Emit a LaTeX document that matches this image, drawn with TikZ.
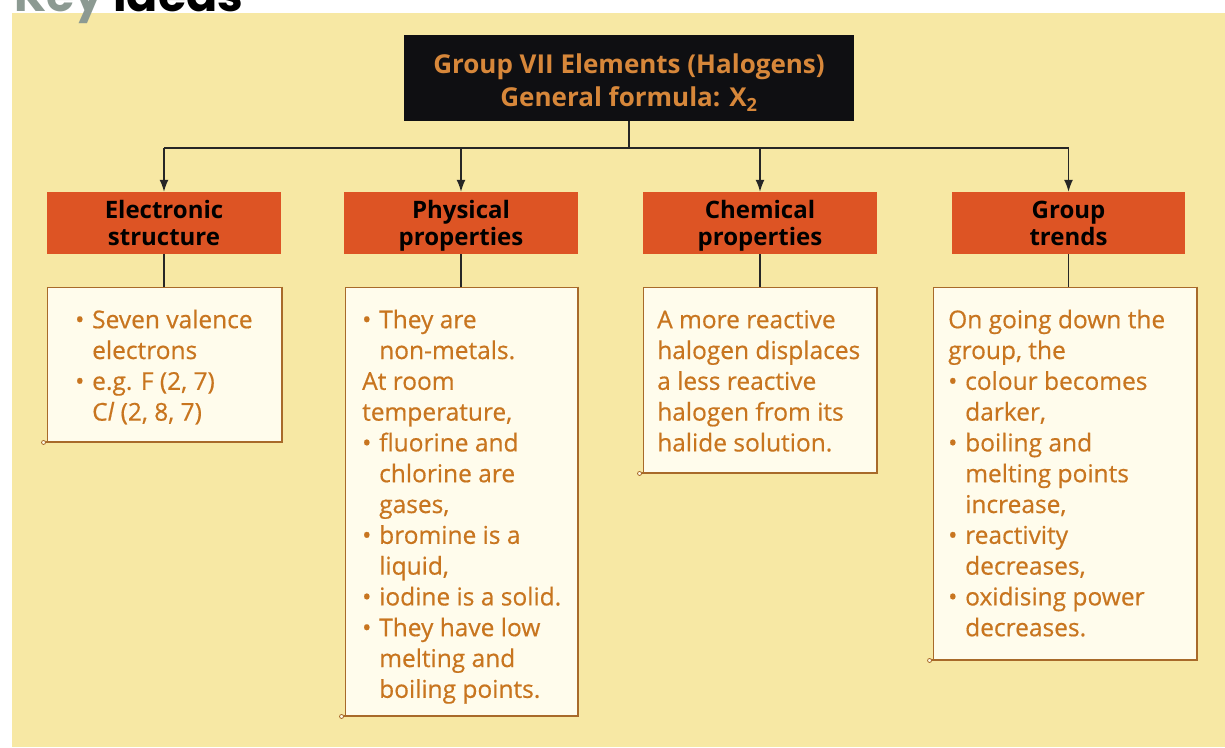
\documentclass[tikz,border=0pt]{standalone}
\usepackage{fontspec}
\setmainfont{Open Sans}
\newfontfamily\keyfont{Poppins}
\newfontfamily\bodyfont[FakeBold=0.5]{Open Sans}
\usetikzlibrary{arrows.meta}
\definecolor{bgyellow}{HTML}{F7E8A4}
\definecolor{hdrorange}{HTML}{DD5424}
\definecolor{titlefill}{HTML}{0F0F12}
\definecolor{titletext}{HTML}{D7873A}
\definecolor{bodytext}{HTML}{C8751F}
\definecolor{boxfill}{HTML}{FFFCEC}
\definecolor{boxline}{HTML}{A86A2A}
\definecolor{keygrey}{HTML}{8C9A92}
\newcommand{\bul}{\makebox[17pt][l]{\textbullet}}
\newcommand{\ind}{\hspace*{17pt}}
\newcommand{\fl}{\rule{0pt}{22pt}}
\newcommand{\hTop}{\rule{0pt}{24pt}}
\newcommand{\hBot}{\rule[-7pt]{0pt}{0pt}}
\newcommand{\tTop}{\rule{0pt}{32pt}}
\newcommand{\tBot}{\rule[-8pt]{0pt}{0pt}}
\begin{document}
\begin{tikzpicture}[x=1pt,y=-1pt,
 titlebox/.style={fill=titlefill, text=titletext, minimum width=450pt, minimum height=86pt, inner sep=0pt, align=center, font=\bfseries\fontsize{26}{33}\selectfont},
 header/.style={fill=hdrorange, minimum height=62pt, inner sep=0pt, align=center, font=\bfseries\fontsize{24}{27}\selectfont},
 contentbox/.style={fill=boxfill, draw=boxline, line width=0.9pt, inner sep=0pt},
 bodytxt/.style={anchor=north west, inner sep=0pt, align=left, text=bodytext, font=\bodyfont\fontsize{24.5}{30.8}\selectfont},
 conn/.style={line width=1.4pt, draw=black!85},
 arr/.style={conn, -{Latex[length=12pt,width=9pt]}}
]
\useasboundingbox (0,0) rectangle (1225,747);
\fill[white] (0,0) rectangle (1225,747);
\fill[bgyellow] (12,13) rectangle (1225,747);
\begin{scope}
\clip (0,0) rectangle (1225,747);
\node[anchor=base west, inner sep=0pt, font=\keyfont\bfseries\fontsize{46}{46}\selectfont] (key) at (14,11) {\textcolor{keygrey}{Key} ideas};
\end{scope}

\node[titlebox] (title) at (629,78) {\tTop Group VII Elements (Halogens)\\General formula: X\textsubscript{2}\tBot};

\node[header, minimum width=234pt] (h1) at (164,223) {\hTop Electronic\\structure\hBot};
\node[header, minimum width=234pt] (h2) at (461,223) {\hTop Physical\\properties\hBot};
\node[header, minimum width=234pt] (h3) at (760,223) {\hTop Chemical\\properties\hBot};
\node[header, minimum width=233pt] (h4) at (1068.5,223) {\hTop Group\\trends\hBot};

\node[contentbox, minimum width=235pt, minimum height=155pt] (c1) at (164.5,364.5) {};
\node[contentbox, minimum width=233pt, minimum height=429pt] (c2) at (461.5,501.5) {};
\node[contentbox, minimum width=234pt, minimum height=186pt] (c3) at (760,380) {};
\node[contentbox, minimum width=264pt, minimum height=373pt] (c4) at (1065,473.5) {};
\foreach \c in {c1,c2,c3,c4}{
  \draw[boxline, line width=2pt] (\c.north east) -- (\c.south east) -- ([xshift=-2pt]\c.south west);
  \draw[boxline, line width=0.8pt, fill=boxfill] ([xshift=-3pt]\c.south west) circle (2pt);
}

\coordinate (busL) at (164,148);
\coordinate (busR) at (1068.5,148);
\coordinate (busM) at (title.south |- busL);
\draw[conn] (title.south) -- (busM);
\draw[conn] (busL) -- (busR);
\draw[arr] (busL) -- (h1.north);
\draw[arr] (h2.north |- busL) -- (h2.north);
\draw[arr] (h3.north |- busL) -- (h3.north);
\draw[arr] (busR) -- (h4.north);
\draw[conn] (h1.south) -- (c1.north -| h1.south);
\draw[conn] (h2.south) -- (c2.north -| h2.south);
\draw[conn] (h3.south) -- (c3.north -| h3.south);
\draw[conn] (h4.south) -- (c4.north -| h4.south);

\node[bodytxt] (t1) at (75,306) {\fl\bul Seven valence\\\ind electrons\\\bul e.g. F (2, 7)\\\ind C\textit{l} (2, 8, 7)};
\node[bodytxt] (t2) at (362,306) {\fl\bul They are\\\ind non-metals.\\At room\\temperature,\\\bul fluorine and\\\ind chlorine are\\\ind gases,\\\bul bromine is a\\\ind liquid,\\\bul iodine is a solid.\\\bul They have low\\\ind melting and\\\ind boiling points.};
\node[bodytxt] (t3) at (657,306) {\fl A more reactive\\halogen displaces\\a less reactive\\halogen from its\\halide solution.};
\node[bodytxt] (t4) at (948,306) {\fl On going down the\\group, the\\\bul colour becomes\\\ind darker,\\\bul boiling and\\\ind melting points\\\ind increase,\\\bul reactivity\\\ind decreases,\\\bul oxidising power\\\ind decreases.};
\end{tikzpicture}
\end{document}
